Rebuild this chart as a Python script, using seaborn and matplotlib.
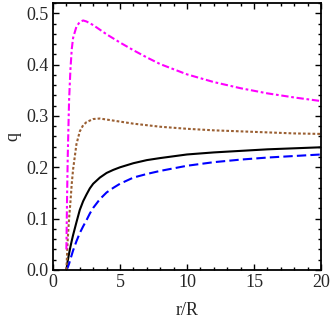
import pandas as pd
import matplotlib
matplotlib.use("Agg")
import matplotlib.pyplot as plt
import seaborn as sns
from matplotlib.ticker import MultipleLocator

# values
r_black = [1, 1.1, 1.2, 1.3, 1.4, 1.5, 1.75, 2, 2.25, 2.5, 2.75, 3, 3.5, 4, 4.5, 5, 6, 7, 8,
           10, 12, 14, 16, 18, 20]
q_black = [0, 0.018, 0.032, 0.045, 0.057, 0.068, 0.093, 0.117, 0.134, 0.147, 0.159, 0.168,
           0.180, 0.189, 0.195, 0.200, 0.208, 0.214, 0.218, 0.225, 0.229, 0.232, 0.235,
           0.237, 0.239]

r_blue = [1, 1.1, 1.2, 1.3, 1.5, 1.75, 2, 2.25, 2.5, 2.75, 3, 3.5, 4, 4.5, 5, 6, 7, 8,
          10, 12, 14, 16, 18, 20]
q_blue = [0, 0.005, 0.012, 0.021, 0.038, 0.056, 0.072, 0.085, 0.097, 0.110, 0.121, 0.138,
          0.151, 0.160, 0.168, 0.180, 0.187, 0.193, 0.203, 0.210, 0.215, 0.219, 0.222, 0.225]

r_brown = [1, 1.1, 1.2, 1.3, 1.4, 1.5, 1.75, 2, 2.25, 2.5, 3, 3.5, 4, 5, 6, 7, 8,
           10, 12, 14, 16, 18, 20]
q_brown = [0, 0.06, 0.10, 0.132, 0.168, 0.196, 0.245, 0.270, 0.282, 0.288, 0.294, 0.295,
           0.293, 0.289, 0.285, 0.282, 0.279, 0.275, 0.272, 0.270, 0.268, 0.266, 0.265]

r_magenta = [1, 1.05, 1.1, 1.2, 1.3, 1.4, 1.5, 1.75, 2, 2.25, 2.5, 3, 3.5, 4, 5, 6, 7, 8,
             10, 12, 14, 16, 18, 20]
q_magenta = [0.04, 0.14, 0.22, 0.33, 0.39, 0.43, 0.452, 0.474, 0.483, 0.486, 0.484, 0.477,
             0.468, 0.459, 0.443, 0.428, 0.414, 0.401, 0.381, 0.366, 0.354, 0.344, 0.336,
             0.329]

x_ticks = [0, 5, 10, 15, 20]
y_ticks = [0, 0.1, 0.2, 0.3, 0.4, 0.5]
y_tick_labels = ["0.0", "0.1", "0.2", "0.3", "0.4", "0.5"]

sns.set_style("ticks")
plt.rcParams["font.family"] = ["Liberation Serif", "DejaVu Serif"]

fig = plt.figure(figsize=(3.32, 3.22), dpi=100)
ax = fig.add_axes([0.1596, 0.1615, 0.8074, 0.8292])

sns.lineplot(x=r_black, y=q_black, color="black", lw=1.5, ax=ax)
sns.lineplot(x=r_blue, y=q_blue, color="#0000ff", lw=1.5, ax=ax)
ax.lines[-1].set_dashes([4.5, 2])
sns.lineplot(x=r_brown, y=q_brown, color="#9a5f32", lw=1.5, ax=ax)
ax.lines[-1].set_dashes([1.3, 1.0])
sns.lineplot(x=r_magenta, y=q_magenta, color="#ff00ff", lw=1.5, ax=ax)
ax.lines[-1].set_dashes([3.5, 1.3, 1.3, 1.3])

ax.set_xlim(0, 20)
ax.set_ylim(0, 0.52)
ax.set_xticks(x_ticks)
ax.set_xticklabels([str(v) for v in x_ticks])
ax.set_yticks(y_ticks)
ax.set_yticklabels(y_tick_labels)
ax.xaxis.set_minor_locator(MultipleLocator(1))
ax.yaxis.set_minor_locator(MultipleLocator(0.02))

ax.tick_params(which="both", direction="in", top=True, right=True, labelsize=13,
               color="black", width=1.0, pad=3)
ax.tick_params(which="major", length=4)
ax.tick_params(which="minor", length=2)
for s in ax.spines.values():
    s.set_linewidth(1.3)
    s.set_color("black")

ax.set_xlabel("r/R", fontsize=13, labelpad=8)
ax.set_ylabel("q", fontsize=13, labelpad=4)

fig.savefig("out.png", dpi=100)
